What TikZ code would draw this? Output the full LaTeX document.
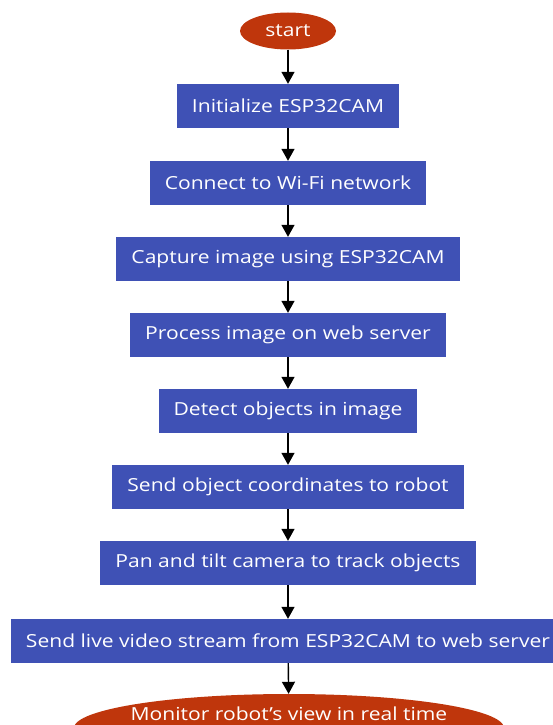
\documentclass[tikz,border=0pt]{standalone}
\usepackage{fontspec}
\setmainfont{Open Sans}[FakeStretch=1.17]
\usepackage{tikz}
\usetikzlibrary{shapes.geometric,arrows.meta}
\definecolor{stepblue}{HTML}{3F51B5}
\definecolor{termred}{HTML}{BF360C}
\tikzset{
  stepbox/.style={rectangle, fill=stepblue, text=white, minimum height=44pt, inner xsep=15pt},
  term/.style={ellipse, fill=termred, text=white, inner sep=0pt},
  flow/.style={-{Triangle[length=12pt,width=13pt]}, line width=1.4pt}
}

\begin{document}
\begin{tikzpicture}[x=1pt, y=-1pt, every node/.style={font=\fontsize{18}{21}\selectfont}]
\useasboundingbox (0,0) rectangle (553,725);
\node [term, minimum width=96pt, minimum height=37pt] (start) at (288,31) {start};
\node [stepbox] (init) at (288,106) {Initialize ESP32CAM};
\node [stepbox] (wifi) at (288,183) {Connect to Wi-Fi network};
\node [stepbox] (capture) at (288,259) {Capture image using ESP32CAM};
\node [stepbox] (process) at (288,335) {Process image on web server};
\node [stepbox] (detect) at (288,411) {Detect objects in image};
\node [stepbox] (send) at (288,487) {Send object coordinates to robot};
\node [stepbox] (pantilt) at (288,563) {Pan and tilt camera to track objects};
\node [stepbox] (stream) at (288,641) {Send live video stream from ESP32CAM to web server};
\node [term, minimum width=430pt, minimum height=68pt,
  label={[text=white, yshift=14pt]center:Monitor robot's view in real time}] (monitor) at (289,728) {};
\draw [flow] (start) -- (init); \draw [flow] (init) -- (wifi); \draw [flow] (wifi) -- (capture);
\draw [flow] (capture) -- (process); \draw [flow] (process) -- (detect);
\draw [flow] (detect) -- (send); \draw [flow] (send) -- (pantilt);
\draw [flow] (pantilt) -- (stream); \draw [flow] (stream) -- (monitor);
\end{tikzpicture}
\end{document}
